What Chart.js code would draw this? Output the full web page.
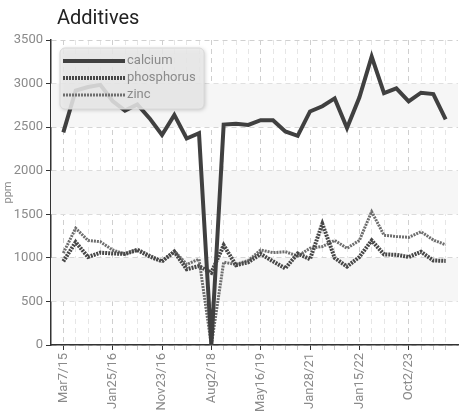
<!DOCTYPE html>
<html>
<head>
<meta charset="utf-8">
<script src="https://cdn.jsdelivr.net/npm/chart.js@4"></script>
<style>
  html, body { margin: 0; padding: 0; background: #fff; }
  #wrap { width: 462px; height: 415px; position: relative; }
</style>
</head>
<body>
<div id="wrap"><canvas id="additivesChart"></canvas></div>
<script>
// sample dates (only every 4th one is shown on the axis)
const dates = [
  'Mar7/15', 'May18/15', 'Jul20/15', 'Oct5/15',
  'Jan25/16', 'Mar28/16', 'Jun6/16', 'Aug29/16',
  'Nov23/16', 'Mar6/17', 'Aug14/17', 'Jan22/18',
  'Aug2/18', 'Oct15/18', 'Dec20/18', 'Mar4/19',
  'May16/19', 'Oct2/19', 'Apr8/20', 'Sep14/20',
  'Jan28/21', 'Apr12/21', 'Jul6/21', 'Oct11/21',
  'Jan15/22', 'Jun6/22', 'Nov14/22', 'Apr17/23',
  'Oct2/23', 'Jan15/24', 'Apr8/24', 'Jul1/24'
];
const calcium = [2440, 2920, 2960, 2985, 2800, 2690, 2760, 2600, 2410, 2640, 2370, 2430, 0, 2530, 2540, 2525,
                 2580, 2580, 2450, 2400, 2680, 2740, 2830, 2490, 2840, 3310, 2890, 2945, 2795, 2895, 2880, 2590];
const phosphorus = [960, 1180, 1010, 1060, 1050, 1045, 1090, 1015, 960, 1070, 870, 905, 830, 1145, 915, 950,
                    1045, 960, 880, 1050, 985, 1390, 1000, 900, 1010, 1200, 1040, 1035, 1010, 1070, 970, 965];
const zinc = [1055, 1340, 1200, 1185, 1090, 1045, 1100, 1030, 960, 1080, 925, 985, 0, 950, 925, 970,
              1090, 1060, 1070, 1020, 1110, 1130, 1200, 1110, 1200, 1530, 1260, 1245, 1235, 1300, 1205, 1150];
const yTicks = [0, 500, 1000, 1500, 2000, 2500, 3000, 3500];
const labelEvery = 4;

const toPoints = arr => arr.map((v, i) => ({ x: i, y: v }));
const font = "Roboto, 'Liberation Sans', sans-serif";

// striped bands + title
const bandsPlugin = {
  id: 'bands',
  beforeDatasetsDraw(chart) {
    const { ctx, chartArea, scales: { y } } = chart;
    ctx.save();
    ctx.fillStyle = '#f6f6f6';
    for (let i = 1; i < yTicks.length - 1; i += 2) {
      const top = y.getPixelForValue(yTicks[i + 1]);
      const bottom = y.getPixelForValue(yTicks[i]);
      ctx.fillRect(chartArea.left, top, chartArea.right - chartArea.left, bottom - top);
    }
    ctx.restore();
  },
  afterDraw(chart) {
    const ctx = chart.ctx;
    ctx.save();
    ctx.fillStyle = '#222';
    ctx.font = "20px " + font;
    ctx.textBaseline = 'middle';
    ctx.fillText('Additives', 57, 19);
    ctx.restore();
  }
};

// legend box drawn inside the plot, over the lines
const innerLegend = {
  id: 'innerLegend',
  afterDatasetsDraw(chart) {
    const { ctx, chartArea } = chart;
    const x = chartArea.left + 9, y = chartArea.top + 8, w = 144, h = 61;
    ctx.save();
    ctx.shadowColor = 'rgba(0,0,0,0.25)';
    ctx.shadowBlur = 4;
    ctx.shadowOffsetX = 1;
    ctx.shadowOffsetY = 1;
    ctx.fillStyle = 'rgba(236,236,236,0.85)';
    ctx.beginPath();
    ctx.roundRect(x, y, w, h, 5);
    ctx.fill();
    ctx.shadowColor = 'transparent';
    ctx.strokeStyle = '#d8d8d8';
    ctx.lineWidth = 1;
    ctx.stroke();
    chart.data.datasets.forEach((ds, i) => {
      const ly = y + 13 + i * 17;
      ctx.strokeStyle = ds.borderColor;
      ctx.lineWidth = ds.borderWidth;
      ctx.setLineDash(ds.borderDash || []);
      ctx.beginPath();
      ctx.moveTo(x + 3, ly);
      ctx.lineTo(x + 65, ly);
      ctx.stroke();
      ctx.setLineDash([]);
      ctx.fillStyle = '#8a8a8a';
      ctx.font = "13px " + font;
      ctx.textBaseline = 'middle';
      ctx.fillText(ds.label, x + 67, ly);
    });
    ctx.restore();
  }
};

new Chart(document.getElementById('additivesChart'), {
  type: 'line',
  data: {
    datasets: [
      { label: 'calcium', data: toPoints(calcium), borderColor: '#404040', borderWidth: 4 },
      { label: 'phosphorus', data: toPoints(phosphorus), borderColor: '#474747', borderWidth: 4, borderDash: [2, 1] },
      { label: 'zinc', data: toPoints(zinc), borderColor: '#6e6e6e', borderWidth: 3, borderDash: [2, 1] }
    ]
  },
  options: {
    responsive: true,
    maintainAspectRatio: false,
    animation: false,
    layout: { padding: { top: 40, right: 4, left: 0, bottom: 0 } },
    elements: { point: { radius: 0 }, line: { tension: 0 } },
    plugins: { legend: { display: false }, title: { display: false }, tooltip: { enabled: false } },
    scales: {
      x: {
        type: 'linear',
        min: -1,
        max: dates.length,
        afterBuildTicks: axis => {
          axis.ticks = [];
          for (let i = -1; i <= dates.length; i++) axis.ticks.push({ value: i });
        },
        afterFit: axis => {
          axis.height = 70;
          axis.paddingLeft = 0;
          axis.paddingRight = 0;
        },
        ticks: {
          autoSkip: false,
          minRotation: 90,
          maxRotation: 90,
          color: '#8a8a8a',
          font: { family: font, size: 13 },
          padding: 3,
          callback: v => (v >= 0 && v < dates.length && v % labelEvery === 0) ? dates[v] : ''
        },
        grid: {
          drawOnChartArea: true,
          tickLength: 5,
          color: c => {
            const v = c.tick && c.tick.value;
            if (v < 0 || v >= dates.length) return 'rgba(0,0,0,0)';
            return v % labelEvery === 0 ? '#cfcfcf' : '#e6e6e6';
          },
          tickColor: c => {
            const v = c.tick && c.tick.value;
            if (v < 0 || v >= dates.length) return 'rgba(0,0,0,0)';
            return v % labelEvery === 0 ? '#333' : '#c8c8c8';
          },
          lineWidth: 1
        },
        border: { display: true, color: '#333', width: 1.5, dash: [5, 4] }
      },
      y: {
        min: 0,
        max: 3500,
        afterBuildTicks: axis => { axis.ticks = yTicks.map(v => ({ value: v })); },
        afterFit: axis => { axis.width = 51; },
        ticks: { color: '#8a8a8a', font: { family: font, size: 13 }, padding: 3, callback: v => String(v) },
        grid: { color: '#d0d0d0', tickColor: '#333', tickLength: 5, lineWidth: 1 },
        border: { display: true, color: '#333', width: 1.5, dash: [5, 4] },
        title: { display: true, text: 'ppm', color: '#8a8a8a', font: { family: font, size: 11 }, padding: 2 }
      }
    }
  },
  plugins: [bandsPlugin, innerLegend]
});
</script>
</body>
</html>
